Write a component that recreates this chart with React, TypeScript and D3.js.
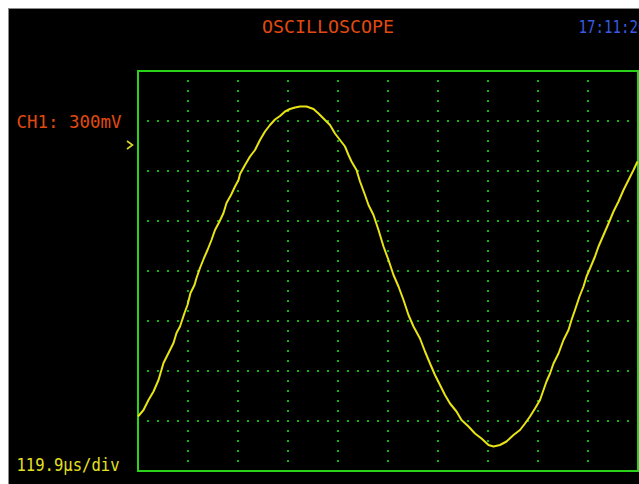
import React, { useEffect, useRef } from 'react';
import * as d3 from 'd3';

// waveform samples, in screen divisions (time: 0..10 div, volts: -4..4 div)
const timeDiv = [
  0.00, 0.11, 0.21, 0.31, 0.41, 0.51, 0.61, 0.71, 0.77, 0.84, 0.93, 0.99, 1.05, 1.13, 1.17,
  1.24, 1.32, 1.39, 1.47, 1.54, 1.63, 1.71, 1.77, 1.86, 1.94, 2.01, 2.04, 2.14, 2.24, 2.34,
  2.44, 2.54, 2.64, 2.74, 2.84, 2.94, 3.04, 3.14, 3.24, 3.37, 3.51, 3.61, 3.71, 3.84, 3.94,
  4.04, 4.14, 4.21, 4.27, 4.37, 4.44, 4.54, 4.61, 4.71, 4.81, 4.91, 5.01, 5.11, 5.21, 5.31,
  5.41, 5.51, 5.64, 5.74, 5.84, 5.94, 6.04, 6.14, 6.24, 6.37, 6.47, 6.61, 6.74, 6.87, 7.01,
  7.11, 7.24, 7.37, 7.51, 7.64, 7.74, 7.84, 7.94, 8.04, 8.11, 8.17, 8.24, 8.31, 8.41, 8.51,
  8.61, 8.67, 8.74, 8.83, 8.91, 8.97, 9.04, 9.14, 9.21, 9.31, 9.41, 9.51, 9.61, 9.71, 9.81,
  9.91, 9.99,
];
const voltDiv = [
  -2.91, -2.78, -2.58, -2.41, -2.18, -1.84, -1.64, -1.44, -1.24, -1.11, -0.84, -0.68, -0.44, -0.28, -0.14,
  0.06, 0.26, 0.42, 0.62, 0.82, 0.99, 1.16, 1.36, 1.52, 1.69, 1.82, 1.94, 2.12, 2.29, 2.42,
  2.62, 2.79, 2.92, 3.03, 3.10, 3.19, 3.24, 3.27, 3.29, 3.29, 3.24, 3.15, 3.05, 2.92, 2.75,
  2.62, 2.49, 2.32, 2.19, 2.02, 1.79, 1.52, 1.32, 1.12, 0.82, 0.49, 0.22, -0.08, -0.31, -0.58,
  -0.88, -1.11, -1.35, -1.61, -1.85, -2.08, -2.28, -2.48, -2.65, -2.81, -2.98, -3.11, -3.25, -3.35, -3.48,
  -3.51, -3.48, -3.41, -3.28, -3.18, -3.05, -2.91, -2.75, -2.58, -2.38, -2.21, -2.05, -1.85, -1.65, -1.38,
  -1.18, -0.98, -0.78, -0.51, -0.31, -0.11, 0.05, 0.29, 0.49, 0.72, 0.95, 1.19, 1.39, 1.62, 1.82,
  2.02, 2.19,
];

const title = 'OSCILLOSCOPE';
const clock = '17:11:20';
const channelLabel = 'CH1: 300mV';
const timebaseLabel = '119.9\u00b5s/div';
const triggerLevel = 2.52;

const xDivs = 10;
const yDivs = 8;

export default function App() {
  const svgRef = useRef<SVGSVGElement>(null);

  useEffect(() => {
    if (!svgRef.current) return;
    const svg = d3.select(svgRef.current);
    svg.selectAll('*').remove();

    const x = d3.scaleLinear().domain([0, xDivs]).range([138, 638]);
    const y = d3.scaleLinear().domain([-yDivs / 2, yDivs / 2]).range([471, 71]);

    // screen background
    svg.append('rect')
      .attr('x', 8.5).attr('y', 8.5)
      .attr('width', 700).attr('height', 600)
      .attr('fill', '#000').attr('stroke', '#8a8a8a');

    const font = '"DejaVu Sans Mono", monospace';

    svg.append('text')
      .attr('x', 262).attr('y', 32.7)
      .attr('textLength', 132).attr('lengthAdjust', 'spacingAndGlyphs')
      .attr('font-family', font).attr('font-size', 18)
      .attr('fill', '#e04a10')
      .text(title);

    // clock runs off the right edge, as on the instrument screen
    svg.append('text')
      .attr('x', 578.5).attr('y', 32.7)
      .attr('textLength', 68).attr('lengthAdjust', 'spacingAndGlyphs')
      .attr('font-family', font).attr('font-size', 18)
      .attr('fill', '#3a5ae0')
      .text(clock);

    svg.append('text')
      .attr('x', 16.5).attr('y', 128)
      .attr('textLength', 105).attr('lengthAdjust', 'spacingAndGlyphs')
      .attr('font-family', font).attr('font-size', 18)
      .attr('fill', '#e04a10')
      .text(channelLabel);

    svg.append('text')
      .attr('x', 16.5).attr('y', 471)
      .attr('textLength', 103).attr('lengthAdjust', 'spacingAndGlyphs')
      .attr('font-family', font).attr('font-size', 18)
      .attr('fill', '#e6e020')
      .text(timebaseLabel);

    // trigger marker
    const ty = y(triggerLevel);
    svg.append('path')
      .attr('d', `M127,${ty - 4} L132.5,${ty} L127,${ty + 4}`)
      .attr('fill', 'none').attr('stroke', '#d8d820').attr('stroke-width', 1.6);

    // dotted graticule
    const dots: [number, number][] = [];
    const steps = 5; // dots per division
    for (let i = 1; i < xDivs; i++) {
      for (let k = 1; k < yDivs * steps; k++) {
        dots.push([x(i), y(-yDivs / 2 + k / steps)]);
      }
    }
    for (let j = 1; j < yDivs; j++) {
      for (let k = 1; k < xDivs * steps; k++) {
        dots.push([x(k / steps), y(-yDivs / 2 + j)]);
      }
    }
    svg.append('g')
      .selectAll('rect')
      .data(dots)
      .enter().append('rect')
      .attr('x', d => d[0] - 1)
      .attr('y', d => d[1] - 1)
      .attr('width', 2).attr('height', 2)
      .attr('fill', '#0fb80f');

    // frame
    svg.append('rect')
      .attr('x', x(0)).attr('y', y(yDivs / 2))
      .attr('width', x(xDivs) - x(0)).attr('height', y(-yDivs / 2) - y(yDivs / 2))
      .attr('fill', 'none').attr('stroke', '#2ad21a').attr('stroke-width', 2);

    // trace
    const pts = timeDiv.map((t, i) => [t, voltDiv[i]] as [number, number]);
    const line = d3.line<[number, number]>()
      .x(d => x(d[0]))
      .y(d => y(d[1]));
    svg.append('path')
      .datum(pts)
      .attr('d', line)
      .attr('fill', 'none')
      .attr('stroke', '#e8e414')
      .attr('stroke-width', 2)
      .attr('stroke-linejoin', 'round');
  }, []);

  return (
    <div style={{ position: 'fixed', left: 0, top: 0, width: 639, height: 484, overflow: 'hidden' }}>
      <svg ref={svgRef} width={639} height={484} style={{ display: 'block' }} />
    </div>
  );
}
